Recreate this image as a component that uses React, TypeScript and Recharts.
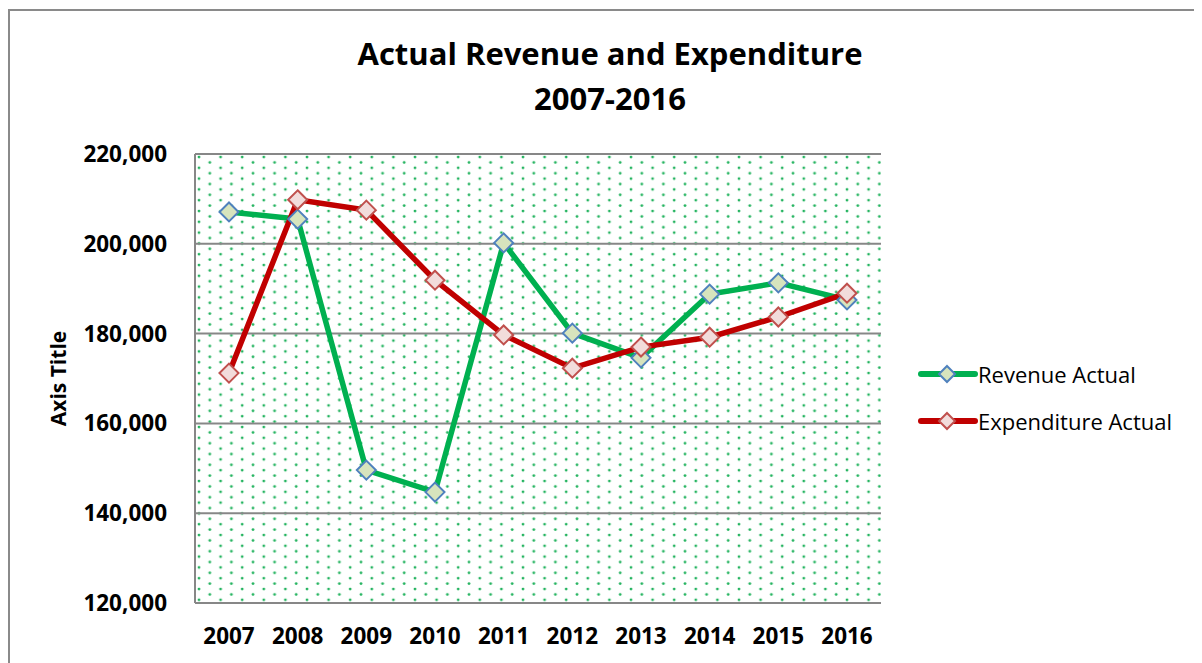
import { LineChart, Line, XAxis, YAxis, CartesianGrid, Legend } from "recharts";

const years = ["2007", "2008", "2009", "2010", "2011", "2012", "2013", "2014", "2015", "2016"];
const revenueActual = [207100, 205500, 149600, 144700, 200200, 180100, 174600, 188800, 191300, 187500];
const expenditureActual = [171200, 209800, 207500, 191900, 179700, 172300, 177000, 179200, 183700, 189000];
const yTicks = [120000, 140000, 160000, 180000, 200000, 220000];

const FONT = "'Open Sans', Lato, sans-serif";
const GRID = "#878787";

const series = [
  { key: "revenue", name: "Revenue Actual", color: "#00b050", fill: "#d7e4bd", edge: "#4f81bd" },
  { key: "expenditure", name: "Expenditure Actual", color: "#c00000", fill: "#f2dcdb", edge: "#c0504d" },
];

const data = years.map((year, i) => ({
  year,
  revenue: revenueActual[i],
  expenditure: expenditureActual[i],
}));

function diamondPath(cx: number, cy: number, r: number) {
  return `M${cx},${cy - r}L${cx + r},${cy}L${cx},${cy + r}L${cx - r},${cy}Z`;
}

function makeDot(fill: string, edge: string) {
  return (p: any) => {
    if (p.cx == null || p.cy == null) return <g key={p.index} />;
    return <path key={p.index} d={diamondPath(p.cx, p.cy, 9.5)} fill={fill} stroke={edge} strokeWidth={2} />;
  };
}

function ChartLegend() {
  return (
    <div style={{ fontFamily: FONT, fontSize: 22, color: "#000" }}>
      {series.map((s) => (
        <div key={s.key} style={{ display: "flex", alignItems: "center", height: 47 }}>
          <svg width={60} height={20} style={{ flex: "none" }}>
            <line x1={3} y1={10} x2={57} y2={10} stroke={s.color} strokeWidth={6} strokeLinecap="round" />
            <path d={diamondPath(29, 10, 8)} fill={s.fill} stroke={s.edge} strokeWidth={2} />
          </svg>
          <span style={{ marginLeft: 0 }}>{s.name}</span>
        </div>
      ))}
    </div>
  );
}

export default function App() {
  return (
    <div style={{ position: "relative", width: 1186, height: 655 }}>
      <div
        style={{
          position: "absolute",
          left: 0,
          top: 1,
          width: 1188,
          height: 700,
          border: "2px solid #8a8a8a",
          boxSizing: "border-box",
        }}
      />
      <div
        style={{
          position: "absolute",
          left: 0,
          top: 23,
          width: 1204,
          textAlign: "center",
          fontFamily: FONT,
          fontWeight: 700,
          fontSize: 31,
          lineHeight: "45px",
          color: "#000",
        }}
      >
        Actual Revenue and Expenditure
        <br />
        2007-2016
      </div>
      <div style={{ position: "absolute", left: 0, top: 0 }}>
        <LineChart width={1186} height={655} data={data} margin={{ top: 146, right: 313, bottom: 0, left: 0 }}>
          <defs>
            <pattern id="dots" patternUnits="userSpaceOnUse" x={187} y={146} width={21.6} height={10.8}>
              <rect width={21.6} height={10.8} fill="#fff" />
              <circle cx={4} cy={3} r={1.4} fill="#22b35e" />
              <circle cx={14.8} cy={8.4} r={1.4} fill="#22b35e" />
            </pattern>
          </defs>
          <CartesianGrid vertical={false} stroke={GRID} strokeWidth={2} fill="url(#dots)" fillOpacity={1} />
          <XAxis
            dataKey="year"
            height={60}
            padding={{ left: 34, right: 34 }}
            tickLine={false}
            axisLine={{ stroke: GRID, strokeWidth: 2 }}
            tickMargin={19}
            tick={{ fontFamily: FONT, fontSize: 22.5, fontWeight: 700, fill: "#000" }}
            interval={0}
          />
          <YAxis
            width={187}
            domain={[120000, 220000]}
            ticks={yTicks}
            tickLine={false}
            axisLine={{ stroke: GRID, strokeWidth: 2 }}
            tickMargin={22}
            tickFormatter={(v: number) => v.toLocaleString("en-US")}
            tick={{ fontFamily: FONT, fontSize: 22.5, fontWeight: 700, fill: "#000" }}
            label={{
              value: "Axis Title",
              angle: -90,
              position: "insideLeft",
              dx: 46,
              style: { fontFamily: FONT, fontSize: 21, fontWeight: 700, fill: "#000", textAnchor: "middle" },
            }}
          />
          <Legend
            layout="horizontal"
            verticalAlign="middle"
            align="center"
            content={<ChartLegend />}
            wrapperStyle={{ left: 910, top: 342, width: 280, height: 100 }}
          />
          {series.map((s) => (
            <Line
              key={s.key}
              type="linear"
              dataKey={s.key}
              name={s.name}
              stroke={s.color}
              strokeWidth={5.5}
              dot={makeDot(s.fill, s.edge)}
              activeDot={false}
              isAnimationActive={false}
            />
          ))}
        </LineChart>
      </div>
    </div>
  );
}
